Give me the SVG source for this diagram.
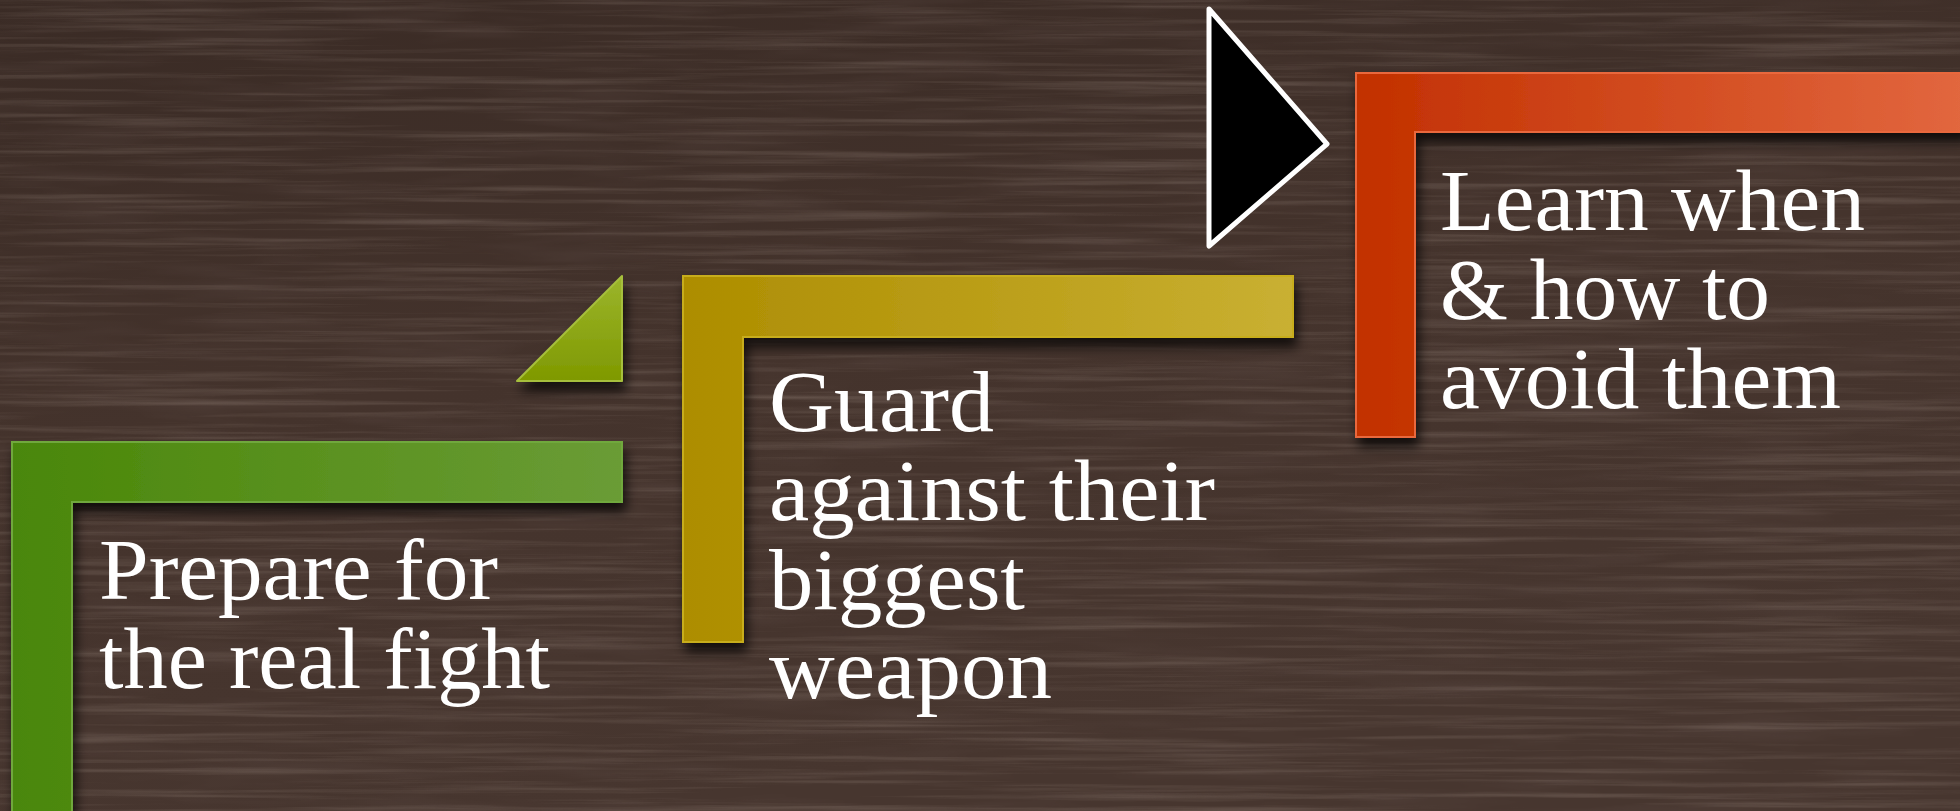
<svg xmlns="http://www.w3.org/2000/svg" width="1960" height="811" viewBox="0 0 1960 811">
<style>
.lbl{font-family:"Liberation Serif","Times New Roman",serif;font-size:86px;fill:#ffffff}
.shape{filter:url(#shadow)}
</style>
<defs>
<linearGradient id="bg" x1="0" y1="0" x2="0.3" y2="1">
<stop offset="0" stop-color="#3a2b25"/>
<stop offset="0.5" stop-color="#44332c"/>
<stop offset="1" stop-color="#47362f"/>
</linearGradient>
<filter id="grainLight" x="0" y="0" width="100%" height="100%">
<feTurbulence type="fractalNoise" baseFrequency="0.003 0.16" numOctaves="5" seed="7"/>
<feColorMatrix type="matrix" values="0 0 0 0 0.72  0 0 0 0 0.6  0 0 0 0 0.52  1.8 0 0 0 -0.85"/>
</filter>
<filter id="grainDark" x="0" y="0" width="100%" height="100%">
<feTurbulence type="fractalNoise" baseFrequency="0.006 0.05" numOctaves="3" seed="21"/>
<feColorMatrix type="matrix" values="0 0 0 0 0.12  0 0 0 0 0.08  0 0 0 0 0.07  -1.6 0 0 0 0.9"/>
</filter>
<filter id="shadow" x="-10%" y="-10%" width="130%" height="140%">
<feDropShadow dx="3" dy="9" stdDeviation="6" flood-color="#000000" flood-opacity="0.75"/>
</filter>
<linearGradient id="gGreen" x1="0" y1="0" x2="1" y2="0">
<stop offset="0" stop-color="#4a8708"/>
<stop offset="1" stop-color="#6a9c36"/>
</linearGradient>
<linearGradient id="gLime" x1="0" y1="0" x2="0" y2="1">
<stop offset="0" stop-color="#9bb52c"/>
<stop offset="1" stop-color="#7f9900"/>
</linearGradient>
<linearGradient id="gGold" x1="0" y1="0" x2="1" y2="0">
<stop offset="0" stop-color="#ad8d00"/>
<stop offset="1" stop-color="#c9b032"/>
</linearGradient>
<linearGradient id="gOrange" x1="0" y1="0" x2="1" y2="0">
<stop offset="0" stop-color="#c23000"/>
<stop offset="1" stop-color="#e2673f"/>
</linearGradient>
</defs>

<rect x="0" y="0" width="1960" height="811" fill="url(#bg)"/>
<rect x="0" y="0" width="1960" height="811" filter="url(#grainDark)" opacity="0.35"/>
<rect x="0" y="0" width="1960" height="811" filter="url(#grainLight)" opacity="0.22"/>

<g id="connectors"></g>

<g id="step1">
<path class="shape" d="M12,442 H622 V502 H72 V815 H12 Z" fill="url(#gGreen)" stroke="#6fa83c" stroke-width="2"/>
<text class="lbl" x="99" y="599" textLength="399" lengthAdjust="spacingAndGlyphs">Prepare for</text>
<text class="lbl" x="99" y="688" textLength="451" lengthAdjust="spacingAndGlyphs">the real fight</text>
</g>

<g id="arrow1">
<path class="shape" d="M517,381 L622,276 L622,381 Z" fill="url(#gLime)" stroke="#a6bf3c" stroke-width="2" stroke-linejoin="round"/>
</g>

<g id="step2">
<path class="shape" d="M683,276 H1293 V337 H743 V642 H683 Z" fill="url(#gGold)" stroke="#c7ad1e" stroke-width="2"/>
<text class="lbl" x="769" y="431" textLength="225" lengthAdjust="spacingAndGlyphs">Guard</text>
<text class="lbl" x="769" y="520" textLength="446" lengthAdjust="spacingAndGlyphs">against their</text>
<text class="lbl" x="769" y="609" textLength="256" lengthAdjust="spacingAndGlyphs">biggest</text>
<text class="lbl" x="769" y="698" textLength="283" lengthAdjust="spacingAndGlyphs">weapon</text>
</g>

<g id="arrow2">
<path d="M1209,9 L1327,144 L1209,246 Z" fill="#000000" stroke="#ffffff" stroke-width="5" stroke-linejoin="round"/>
</g>

<g id="step3">
<path class="shape" d="M1356,73 H1965 V132 H1415 V437 H1356 Z" fill="url(#gOrange)" stroke="#e9683e" stroke-width="2"/>
<text class="lbl" x="1440" y="230" textLength="425" lengthAdjust="spacingAndGlyphs">Learn when</text>
<text class="lbl" x="1440" y="319" textLength="330" lengthAdjust="spacingAndGlyphs">&amp; how to</text>
<text class="lbl" x="1440" y="408" textLength="401" lengthAdjust="spacingAndGlyphs">avoid them</text>
</g>
</svg>
